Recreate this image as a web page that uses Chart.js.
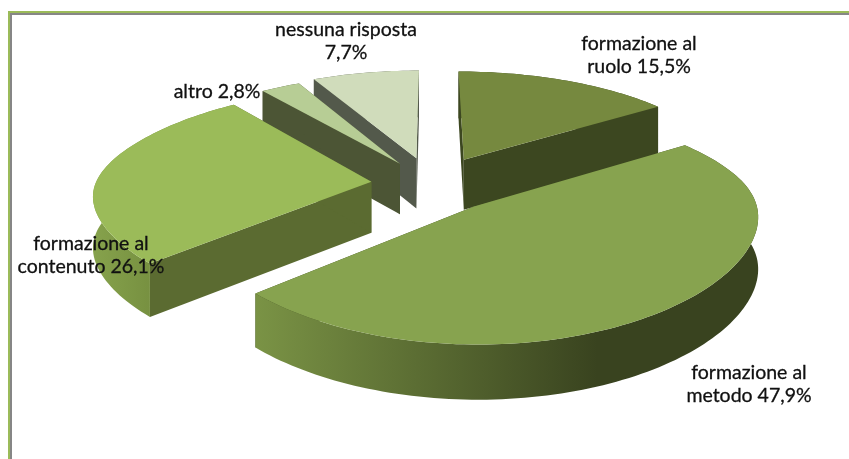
<!DOCTYPE html>
<html>
<head>
<meta charset="utf-8">
<style>
    html, body { margin: 0; padding: 0; background: #fff; }
    #wrap { position: absolute; left: 0; top: 0; width: 849px; height: 459px; }
    #pie-chart { filter: blur(0.45px); }
</style>
</head>
<body>
<div id="wrap"><canvas id="pie-chart"></canvas></div>
<script src="https://cdn.jsdelivr.net/npm/chart.js@4/dist/chart.umd.min.js"></script>
<script>
// Values, clockwise from 12 o'clock
const categories = ['formazione al ruolo', 'formazione al metodo', 'formazione al contenuto', 'altro', 'nessuna risposta'];
const shares = [15.5, 47.9, 26.1, 2.8, 7.7];

const topColors = ['#76893f', '#87a34f', '#9bbb59', '#b7cd95', '#d0dcbb'];
const wallColors = ['#3c4720', '#3a451f', '#5b6b31', '#4c5535', '#53594b'];
// outer rim shading, left to right
const rimShades = [['#3c4720', '#3c4720'], ['#7a9345', '#39431f'], ['#86a24c', '#6d8539'], ['#4c5535', '#4c5535'], ['#53594b', '#53594b']];
const explode = [52, 50, 45, 45, 50];

// back slices first, so the front ones paint over them
const paintOrder = [4, 3, 0, 2, 1];

// label lines and where they sit
const labelLines = [
    ['formazione al', 'ruolo {v}'],
    ['formazione al', 'metodo {v}'],
    ['formazione al', 'contenuto {v}'],
    ['altro {v}'],
    ['nessuna risposta', '{v}']
];
const labelSpots = [[639, 44], [749, 373], [91, 244], [217, 92], [346, 30]];

// fake 3D view
const view = { cx: 432, cy: 184, a: 276, b: 112, height: 51 };

// perspective strength, blended smoothly between back (v < 0) and front (v > 0)
function depthScale(v, back, front) {
    const k = (back + front) / 2 + (front - back) / 2 * Math.tanh(2.5 * v);
    return 1 / (1 - k * v);
}

function project(u, v) {
    return {
        x: view.cx + u * view.a * depthScale(v, 0.2, 0.08),
        y: view.cy + v * view.b * depthScale(v, 0.18, 0.14),
        drop: view.height + 3.5 * v
    };
}

function fillShape(ctx, pts, fill) {
    ctx.beginPath();
    pts.forEach((p, i) => i ? ctx.lineTo(p.x, p.y) : ctx.moveTo(p.x, p.y));
    ctx.closePath();
    ctx.fillStyle = fill;
    ctx.fill();
}

function down(p) {
    return { x: p.x, y: p.y + p.drop };
}

function drawSlice(ctx, arc, i) {
    const { startAngle, endAngle, outerRadius } = arc.getProps(['startAngle', 'endAngle', 'outerRadius'], true);
    const mid = (startAngle + endAngle) / 2;
    const off = arc.options.offset / outerRadius;
    const ou = Math.cos(mid) * off;
    const ov = Math.sin(mid) * off;

    const apex = project(ou, ov);
    const rim = [];
    const steps = Math.max(4, Math.ceil((endAngle - startAngle) * 40));
    for (let n = 0; n <= steps; n++) {
        const t = startAngle + (endAngle - startAngle) * n / steps;
        rim.push(project(ou + Math.cos(t), ov + Math.sin(t)));
    }

    // radial walls
    const first = rim[0];
    const last = rim[rim.length - 1];
    fillShape(ctx, [apex, first, down(first), down(apex)], wallColors[i]);
    fillShape(ctx, [apex, last, down(last), down(apex)], wallColors[i]);

    // outer wall
    const xs = rim.map(p => p.x);
    const grad = ctx.createLinearGradient(Math.min(...xs), 0, Math.min(...xs) + (Math.max(...xs) - Math.min(...xs)) * 0.68, 0);
    grad.addColorStop(0, rimShades[i][0]);
    grad.addColorStop(1, rimShades[i][1]);
    fillShape(ctx, rim.concat(rim.map(down).reverse()), grad);

    // top face
    fillShape(ctx, [apex].concat(rim), arc.options.backgroundColor);
}

const pie3d = {
    id: 'pie3d',
    beforeDatasetsDraw(chart) {
        const ctx = chart.ctx;
        const arcs = chart.getDatasetMeta(0).data;
        ctx.save();
        // frame, top and left only
        ctx.fillStyle = '#9bbb59';
        ctx.fillRect(8, 11, 841, 2);
        ctx.fillRect(8, 11, 2, 448);
        ctx.fillStyle = '#868686';
        ctx.fillRect(10, 13, 839, 2);
        ctx.fillRect(10, 13, 2, 446);

        paintOrder.forEach(i => drawSlice(ctx, arcs[i], i));

        ctx.fillStyle = '#111';
        ctx.strokeStyle = '#111';
        ctx.lineWidth = 0.3;
        ctx.font = '19.5px Lato';
        ctx.textAlign = 'center';
        ctx.textBaseline = 'middle';
        labelLines.forEach((lines, i) => {
            const txt = shares[i].toFixed(1).replace('.', ',') + '%';
            lines.forEach((line, n) => {
                const text = line.replace('{v}', txt);
                ctx.fillText(text, labelSpots[i][0], labelSpots[i][1] + n * 23);
                ctx.strokeText(text, labelSpots[i][0], labelSpots[i][1] + n * 23);
            });
        });
        ctx.restore();
        return false;
    }
};

new Chart(document.getElementById('pie-chart'), {
    type: 'pie',
    data: {
        labels: categories,
        datasets: [{
            data: shares,
            backgroundColor: topColors,
            borderWidth: 0,
            offset: explode
        }]
    },
    options: {
        responsive: true,
        maintainAspectRatio: false,
        animation: false,
        plugins: {
            legend: { display: false },
            title: { display: false },
            tooltip: { enabled: false }
        }
    },
    plugins: [pie3d]
});
</script>
</body>
</html>
